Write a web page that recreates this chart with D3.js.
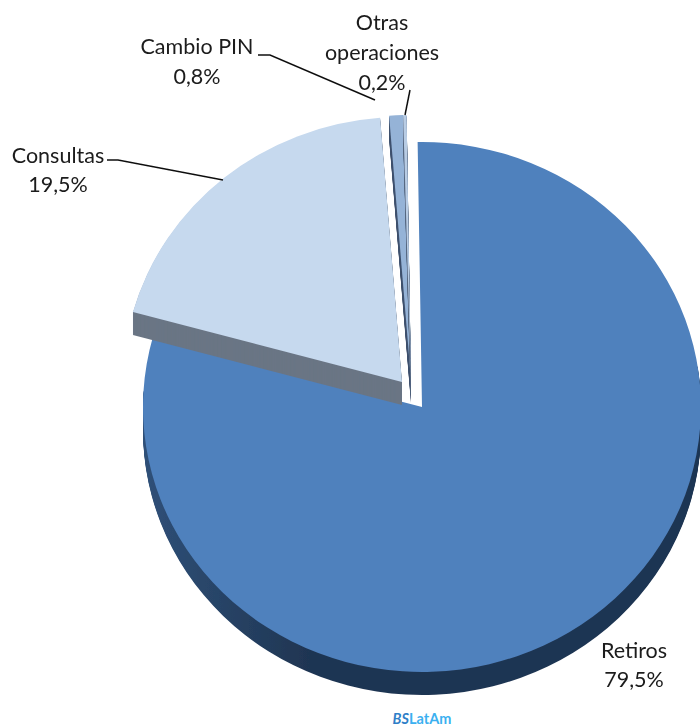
<!DOCTYPE html>
<html><head><meta charset="utf-8">
<script src="https://cdn.jsdelivr.net/npm/d3@7"></script>
<style>html,body{margin:0;padding:0;background:#fff}svg{display:block}text{font-family:Lato,sans-serif;fill:#1a1a1a}</style>
</head><body><svg width="700" height="726"></svg>
<script>
const categories = ["Retiros","Consultas","Cambio PIN","Otras operaciones"];
const values = [79.5,19.5,0.8,0.2];
const faceColors = ["#4f81bd","#c6d9ee","#95b3d7","#b8cce4"];
const wallColors = ["url(#wall)","#6a7585","#3f5270","#5a6b85"];
const centers = [[422,407],[402,382],[411,380],[411,380]];
const labelLines = [
  [["Retiros",634,653],["79,5%",634,682]],
  [["Consultas",58,158],["19,5%",58,187]],
  [["Cambio PIN",197,49],["0,8%",197,79]],
  [["Otras",382,25],["operaciones",382,55],["0,2%",382,85]]
];
const leaders = [
  null,
  [[107,160],[118,160],[223,180]],
  [[258,55],[270,55],[375,100]],
  [[410,90],[405,115]]
];
const logoText = "BS", logoText2 = "LatAm";

const rx = 279, ry = 265, depth = 23;
const svg = d3.select("svg");
const defs = svg.append("defs");
const g = defs.append("linearGradient").attr("id","wall");
g.append("stop").attr("offset","0").attr("stop-color","#2f5078");
g.append("stop").attr("offset","0.3").attr("stop-color","#1f3552");
g.append("stop").attr("offset","1").attr("stop-color","#1f3552");
const soft = defs.append("filter").attr("id","soft");
soft.append("feGaussianBlur").attr("stdDeviation",0.45);

const offset = -0.9*Math.PI/180;
const pie = d3.pie().sort(null).startAngle(offset).endAngle(offset+2*Math.PI);
const arcs = pie(values);
const arc = d3.arc().innerRadius(0).outerRadius(ry);
const band = d3.arc().innerRadius(ry-40).outerRadius(ry);

const chart = svg.append("g").attr("filter","url(#soft)");
arcs.forEach((a,i)=>{
  const [cx,cy] = centers[i];
  const s = chart.append("g");
  // the big slice only shows its wall along the lower rim
  const wallPath = i===0
    ? band({startAngle:Math.max(a.startAngle,Math.PI*0.45),endAngle:Math.min(a.endAngle,Math.PI*1.52)})
    : arc(a);
  s.selectAll("path.w").data(d3.range(depth,0,-1)).join("path")
    .attr("class","w")
    .attr("d",wallPath)
    .attr("fill",wallColors[i])
    .attr("transform",d=>`translate(${cx},${cy+d}) scale(${rx/ry},1)`);
  s.append("path").attr("d",arc(a)).attr("fill",faceColors[i])
    .attr("transform",`translate(${cx},${cy}) scale(${rx/ry},1)`);
});

const line = d3.line();
const lab = svg.append("g").attr("filter","url(#soft)");
leaders.forEach(l=>{ if(l) lab.append("path").attr("d",line(l)).attr("fill","none").attr("stroke","#111").attr("stroke-width",1.5); });
labelLines.flat().forEach(([t,x,y])=>{
  lab.append("text").attr("x",x).attr("y",y).attr("text-anchor","middle")
    .attr("dominant-baseline","middle").attr("font-size",21.5).text(t);
});
const logo = svg.append("text").attr("x",422).attr("y",724).attr("text-anchor","middle")
  .attr("font-size",14.5).attr("font-weight",700).style("fill","#3bb0f0");
logo.append("tspan").attr("font-style","italic").style("fill","#2f7fc8").text(logoText);
logo.append("tspan").text(logoText2);
</script></body></html>
